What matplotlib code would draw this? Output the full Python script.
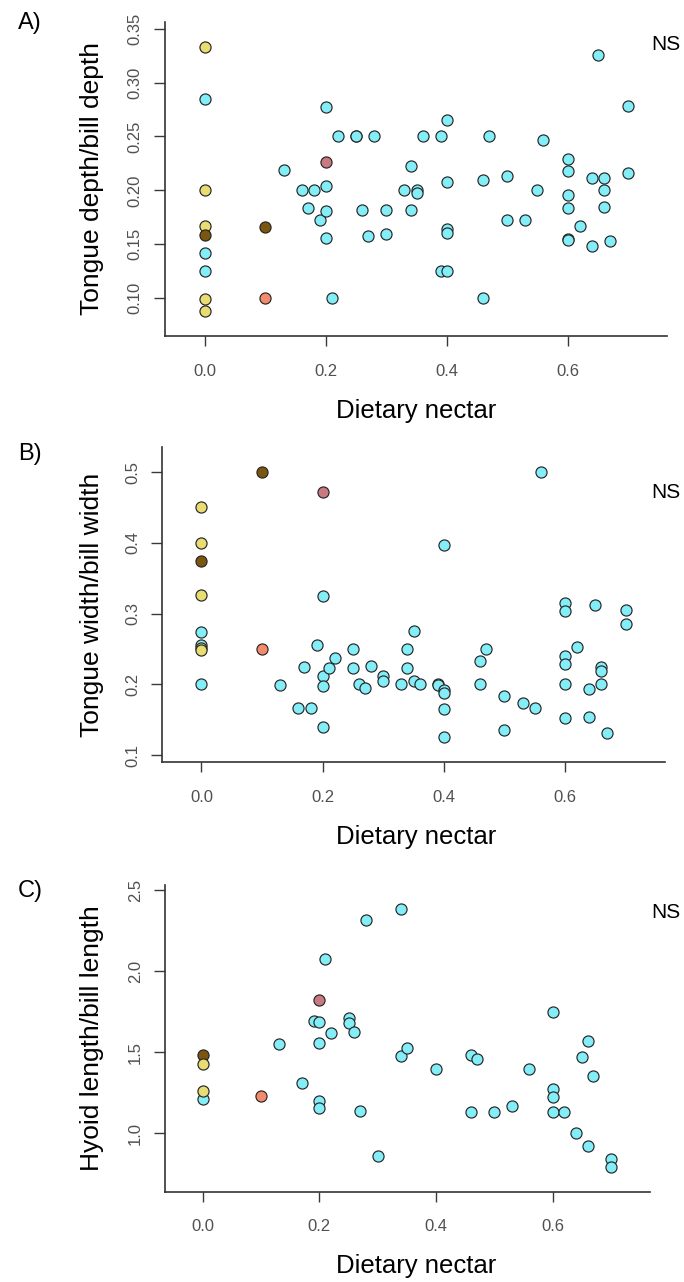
import matplotlib
matplotlib.use("Agg")
import matplotlib.pyplot as plt

plt.rcParams['font.family'] = ['Liberation Sans', 'DejaVu Sans']

# colours of the groups
c_cyan = '#84eef8'
c_yellow = '#e8dc72'
c_brown = '#7a560f'
c_orange = '#f28a6c'
c_pink = '#c87a80'

# ---- A) tongue depth / bill depth ----
a_cyan_x = [0, 0, 0, 0.13, 0.16, 0.18, 0.17, 0.19, 0.2, 0.2, 0.2, 0.2, 0.21, 0.22, 0.25, 0.25,
            0.26, 0.27, 0.28, 0.30, 0.30, 0.33, 0.34, 0.34, 0.35, 0.35, 0.36, 0.39, 0.39,
            0.40, 0.40, 0.40, 0.40, 0.40, 0.46, 0.46, 0.47, 0.50, 0.50, 0.53, 0.55, 0.56,
            0.6, 0.6, 0.6, 0.6, 0.6, 0.6, 0.62, 0.64, 0.64, 0.65, 0.66, 0.66, 0.66, 0.67, 0.70, 0.70]
a_cyan_y = [0.285, 0.1415, 0.125, 0.219, 0.200, 0.200, 0.184, 0.172, 0.277, 0.204, 0.181, 0.156,
            0.100, 0.250, 0.250, 0.250, 0.182, 0.158, 0.250, 0.182, 0.159, 0.200, 0.2226, 0.182,
            0.200, 0.1975, 0.250, 0.250, 0.125, 0.265, 0.208, 0.164, 0.160, 0.125, 0.2096, 0.100,
            0.250, 0.2136, 0.1727, 0.172, 0.200, 0.247, 0.229, 0.218, 0.196, 0.184, 0.155, 0.154,
            0.167, 0.211, 0.148, 0.326, 0.211, 0.200, 0.1845, 0.153, 0.278, 0.216]
a_yellow_x = [0, 0, 0, 0, 0]
a_yellow_y = [0.333, 0.200, 0.167, 0.0988, 0.088]
a_brown_x = [0, 0.1]
a_brown_y = [0.1585, 0.1662]
a_orange_x = [0.1]
a_orange_y = [0.0997]
a_pink_x = [0.2]
a_pink_y = [0.2266]

# ---- B) tongue width / bill width ----
b_cyan_x = [0, 0, 0, 0.13, 0.16, 0.18, 0.17, 0.19, 0.2, 0.2, 0.2, 0.2, 0.21, 0.22, 0.25, 0.25,
            0.26, 0.27, 0.28, 0.30, 0.30, 0.33, 0.34, 0.34, 0.35, 0.35, 0.36, 0.39, 0.39,
            0.40, 0.40, 0.40, 0.40, 0.40, 0.46, 0.46, 0.47, 0.50, 0.50, 0.53, 0.55, 0.56,
            0.6, 0.6, 0.6, 0.6, 0.6, 0.6, 0.62, 0.64, 0.64, 0.65, 0.66, 0.66, 0.66, 0.67, 0.70, 0.70]
b_cyan_y = [0.2746, 0.256, 0.200, 0.199, 0.1666, 0.1666, 0.225, 0.2557, 0.3246, 0.2124, 0.1982,
            0.140, 0.2228, 0.2369, 0.250, 0.2228, 0.200, 0.1953, 0.2256, 0.2124, 0.2048, 0.200,
            0.250, 0.2228, 0.2755, 0.2048, 0.200, 0.200, 0.199, 0.3967, 0.192, 0.188, 0.1648,
            0.1256, 0.2335, 0.200, 0.250, 0.184, 0.136, 0.1737, 0.1666, 0.500, 0.3147, 0.3042,
            0.2402, 0.2284, 0.201, 0.152, 0.2533, 0.193, 0.1543, 0.3123, 0.2242, 0.219, 0.200,
            0.1308, 0.305, 0.2854]
b_yellow_x = [0, 0, 0, 0, 0]
b_yellow_y = [0.4514, 0.400, 0.3265, 0.252, 0.249]
b_brown_x = [0, 0.1]
b_brown_y = [0.3745, 0.500]
b_orange_x = [0.1]
b_orange_y = [0.250]
b_pink_x = [0.2]
b_pink_y = [0.4726]

# ---- C) hyoid length / bill length ----
c_cyan_x = [0, 0.13, 0.17, 0.19, 0.2, 0.2, 0.2, 0.2, 0.21, 0.22, 0.25, 0.25, 0.26, 0.27, 0.28,
            0.30, 0.34, 0.34, 0.35, 0.40, 0.46, 0.46, 0.47, 0.50, 0.53, 0.56, 0.6, 0.6, 0.6,
            0.6, 0.62, 0.64, 0.65, 0.66, 0.66, 0.67, 0.70, 0.70]
c_cyan_y = [1.209, 1.551, 1.312, 1.694, 1.684, 1.559, 1.199, 1.154, 2.077, 1.616, 1.713, 1.678,
            1.6225, 1.1375, 2.317, 0.860, 2.381, 1.477, 1.524, 1.3985, 1.483, 1.129, 1.456,
            1.133, 1.166, 1.3946, 1.750, 1.271, 1.222, 1.129, 1.129, 1.004, 1.472, 1.569,
            0.924, 1.353, 0.842, 0.790]
c_yellow_x = [0, 0]
c_yellow_y = [1.427, 1.261]
c_brown_x = [0]
c_brown_y = [1.481]
c_orange_x = [0.1]
c_orange_y = [1.232]
c_pink_x = [0.2]
c_pink_y = [1.822]

x_ticks = [0.0, 0.2, 0.4, 0.6]
x_ticklabels = ['0.0', '0.2', '0.4', '0.6']
a_yticks = [0.10, 0.15, 0.20, 0.25, 0.30, 0.35]
a_yticklabels = ['0.10', '0.15', '0.20', '0.25', '0.30', '0.35']
b_yticks = [0.1, 0.2, 0.3, 0.4, 0.5]
b_yticklabels = ['0.1', '0.2', '0.3', '0.4', '0.5']
c_yticks = [1.0, 1.5, 2.0, 2.5]
c_yticklabels = ['1.0', '1.5', '2.0', '2.5']

W, H = 684, 1282
fig = plt.figure(figsize=(W / 100, H / 100), dpi=100)

# panel boxes in pixels: left, top, right, bottom
panels = [
    dict(box=(165, 21.7, 667.4, 336), xlim=(-0.0662, 0.765), ylim=(0.0647, 0.3566),
         yticks=a_yticks, ytl=a_yticklabels, ylabel='Tongue depth/bill depth', tag='A)',
         tag_y=22.5, ns_y=44,
         groups=[(a_cyan_x, a_cyan_y, c_cyan), (a_yellow_x, a_yellow_y, c_yellow),
                 (a_brown_x, a_brown_y, c_brown), (a_orange_x, a_orange_y, c_orange),
                 (a_pink_x, a_pink_y, c_pink)]),
    dict(box=(162.3, 447, 665.2, 762), xlim=(-0.0647, 0.7655), ylim=(0.0901, 0.5358),
         yticks=b_yticks, ytl=b_yticklabels, ylabel='Tongue width/bill width', tag='B)',
         tag_y=454, ns_y=493,
         groups=[(b_cyan_x, b_cyan_y, c_cyan), (b_yellow_x, b_yellow_y, c_yellow),
                 (b_brown_x, b_brown_y, c_brown), (b_orange_x, b_orange_y, c_orange),
                 (b_pink_x, b_pink_y, c_pink)]),
    dict(box=(164.9, 885, 650, 1191.7), xlim=(-0.065, 0.767), ylim=(0.640, 2.531),
         yticks=c_yticks, ytl=c_yticklabels, ylabel='Hyoid length/bill length', tag='C)',
         tag_y=891.5, ns_y=912,
         groups=[(c_cyan_x, c_cyan_y, c_cyan), (c_brown_x, c_brown_y, c_brown),
                 (c_yellow_x, c_yellow_y, c_yellow), (c_orange_x, c_orange_y, c_orange),
                 (c_pink_x, c_pink_y, c_pink)]),
]

for p in panels:
    l, t, r, b = p['box']
    ax = fig.add_axes([l / W, 1 - b / H, (r - l) / W, (b - t) / H])
    for xs, ys, col in p['groups']:
        ax.scatter(xs, ys, s=64, c=col, edgecolors='#262626', linewidths=0.85, zorder=3)
    ax.set_xlim(p['xlim'])
    ax.set_ylim(p['ylim'])
    ax.spines['top'].set_visible(False)
    ax.spines['right'].set_visible(False)
    for sp in ['left', 'bottom']:
        ax.spines[sp].set_color('#333333')
        ax.spines[sp].set_linewidth(1.2)
    ax.set_xticks(x_ticks)
    ax.set_xticklabels(x_ticklabels)
    ax.set_yticks(p['yticks'])
    ax.set_yticklabels(p['ytl'], rotation=90, va='center')
    ax.tick_params(axis='x', length=7, width=1.0, color='#3a3a3a', pad=13,
                   labelsize=12, labelcolor='#505050')
    ax.tick_params(axis='y', length=8, width=1.0, color='#3a3a3a', pad=8,
                   labelsize=12, labelcolor='#505050')

    # axis titles, tag and NS
    fig.text(92 / W, 1 - (t + b) / 2 / H, p['ylabel'], rotation=90, ha='center', va='center',
             fontsize=19, color='black')
    fig.text(416 / W, 1 - (b + 81.6) / H, 'Dietary nectar', ha='center', va='baseline',
             fontsize=18.5, color='black')
    fig.text(30 / W, 1 - p['tag_y'] / H, p['tag'], ha='center', va='center', fontsize=17)
    fig.text(666 / W, 1 - p['ns_y'] / H, 'NS', ha='center', va='center', fontsize=15)

fig.savefig('out.png', dpi=100)
